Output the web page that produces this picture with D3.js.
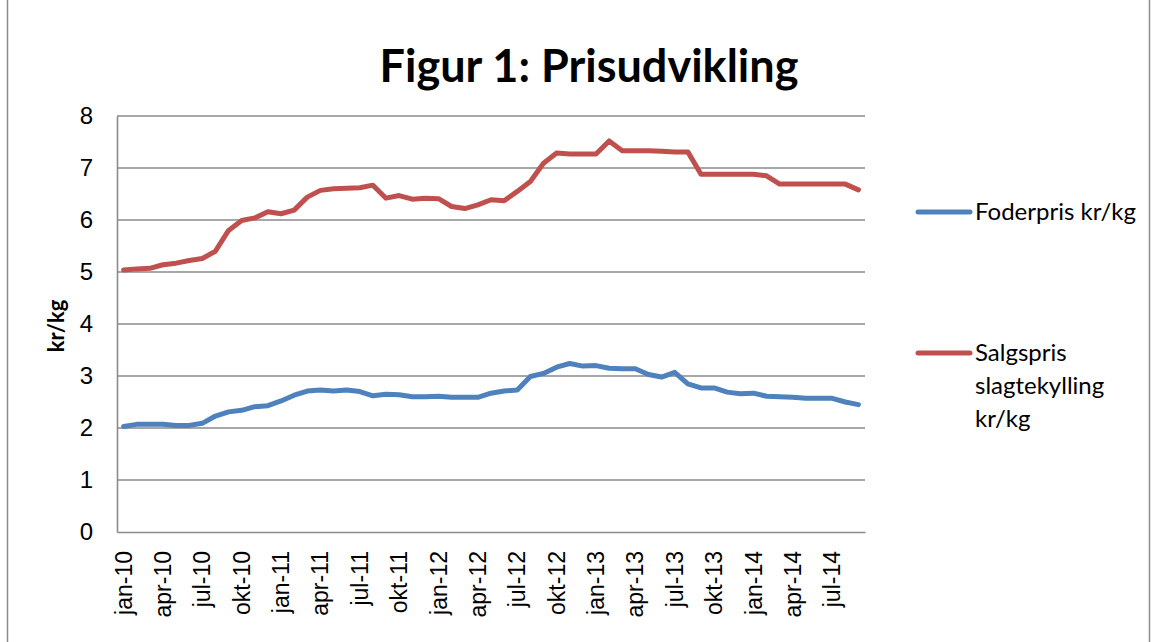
<!DOCTYPE html>
<html>
<head>
<meta charset="utf-8">
<script src="https://cdn.jsdelivr.net/npm/d3@7"></script>
<style>
  body { margin: 0; background: #fff; }
  svg { font-family: Lato, "Open Sans", sans-serif; }
</style>
</head>
<body>
<svg id="chart" width="1157" height="642"></svg>
<script>
var margin = {"top": 116, "right": 292, "bottom": 110, "left": 117};
var width = 1157;
var height = 642;

// data
var months = ["jan", "feb", "mar", "apr", "maj", "jun", "jul", "aug", "sep", "okt", "nov", "dec"];
var categories = [];
for (var yr = 10; yr <= 14; yr++) {
  months.forEach(function(m) { categories.push(m + "-" + yr); });
}
categories = categories.slice(0, 57); // jan-10 .. sep-14

var foderpris = [2.03, 2.07, 2.07, 2.07, 2.05, 2.05, 2.09, 2.23, 2.31, 2.34, 2.41, 2.43,
  2.52, 2.63, 2.71, 2.73, 2.71, 2.73, 2.70, 2.62, 2.65, 2.64, 2.60, 2.60,
  2.61, 2.59, 2.59, 2.59, 2.67, 2.71, 2.73, 2.99, 3.05, 3.17, 3.24, 3.19,
  3.20, 3.15, 3.14, 3.14, 3.03, 2.98, 3.07, 2.85, 2.77, 2.77, 2.69, 2.66,
  2.67, 2.61, 2.60, 2.59, 2.57, 2.57, 2.57, 2.50, 2.45];
var salgspris = [5.04, 5.06, 5.07, 5.14, 5.17, 5.22, 5.26, 5.40, 5.80, 5.99, 6.04, 6.16,
  6.12, 6.19, 6.44, 6.57, 6.60, 6.61, 6.62, 6.67, 6.42, 6.47, 6.40, 6.42,
  6.41, 6.26, 6.22, 6.29, 6.39, 6.37, 6.55, 6.74, 7.09, 7.29, 7.27, 7.27,
  7.27, 7.52, 7.33, 7.33, 7.33, 7.32, 7.31, 7.31, 6.88, 6.88, 6.88, 6.88,
  6.88, 6.85, 6.69, 6.69, 6.69, 6.69, 6.69, 6.69, 6.58];
var yTicks = [0, 1, 2, 3, 4, 5, 6, 7, 8];

var series = [
  {name: ["Foderpris kr/kg"], values: foderpris, color: "#4F81BD", ly: 212},
  {name: ["Salgspris", "slagtekylling", "kr/kg"], values: salgspris, color: "#C0504D", ly: 353}
];

// scales
var xScale = d3.scaleBand()
  .domain(categories)
  .range([margin.left, width - margin.right]);
var yScale = d3.scaleLinear()
  .domain([0, 8])
  .range([height - margin.bottom, margin.top]);

var svg = d3.select('#chart');

// outer chart border
svg.append('rect')
  .attr('x', 7.5).attr('y', -3)
  .attr('width', 1142).attr('height', 650)
  .attr('fill', 'none')
  .attr('stroke', '#8c8c8c')
  .attr('stroke-width', 1.5);

// title
svg.append('text')
  .attr('x', 589).attr('y', 82)
  .attr('text-anchor', 'middle')
  .style('font-size', '45px')
  .style('font-weight', 'bold')
  .text('Figur 1: Prisudvikling');

// gridlines
svg.append('g').selectAll('line')
  .data(yTicks.slice(1))
  .enter().append('line')
  .attr('x1', margin.left).attr('x2', width - margin.right)
  .attr('y1', function(d) { return yScale(d); })
  .attr('y2', function(d) { return yScale(d); })
  .attr('stroke', '#8a8a8a')
  .attr('stroke-width', 1.6);

// axes
var yAxis = d3.axisLeft(yScale).tickValues(yTicks).tickSize(0).tickPadding(24);
var gy = svg.append('g')
  .attr('transform', 'translate(' + [margin.left, 0] + ')')
  .call(yAxis);
gy.select('.domain').attr('stroke', '#8a8a8a').attr('stroke-width', 1.6);
gy.selectAll('text').style('font-size', '24px').attr('fill', '#000');

var xAxis = d3.axisBottom(xScale)
  .tickValues(categories.filter(function(d, i) { return i % 3 === 0; }))
  .tickSize(0);
var gx = svg.append('g')
  .attr('transform', 'translate(' + [0, height - margin.bottom] + ')')
  .call(xAxis);
gx.select('.domain').attr('stroke', '#8a8a8a').attr('stroke-width', 1.6);
gx.selectAll('text')
  .style('font-size', '23px')
  .attr('fill', '#000')
  .attr('text-anchor', 'end')
  .attr('transform', 'rotate(-90)')
  .attr('x', -19)
  .attr('y', 0)
  .attr('dy', '0.35em');

// y axis title
svg.append('text')
  .attr('transform', 'translate(64,' + 326 + ') rotate(-90)')
  .attr('text-anchor', 'middle')
  .style('font-size', '22px')
  .style('font-weight', 'bold')
  .text('kr/kg');

// lines
var line = d3.line()
  .x(function(d, i) { return xScale(categories[i]) + xScale.bandwidth() / 2; })
  .y(function(d) { return yScale(d); });

svg.append('g').selectAll('path')
  .data(series)
  .enter().append('path')
  .attr('d', function(d) { return line(d.values); })
  .attr('fill', 'none')
  .attr('stroke', function(d) { return d.color; })
  .attr('stroke-width', 5)
  .attr('stroke-linejoin', 'round')
  .attr('stroke-linecap', 'round');

// legend
var lg = svg.append('g').selectAll('g')
  .data(series)
  .enter().append('g');
lg.append('line')
  .attr('x1', 918).attr('x2', 970)
  .attr('y1', function(d) { return d.ly; })
  .attr('y2', function(d) { return d.ly; })
  .attr('stroke', function(d) { return d.color; })
  .attr('stroke-width', 5)
  .attr('stroke-linecap', 'round');
lg.append('text')
  .attr('x', 975)
  .attr('y', function(d) { return d.ly; })
  .style('font-size', '24px')
  .selectAll('tspan')
  .data(function(d) { return d.name; })
  .enter().append('tspan')
  .attr('x', 975)
  .attr('dy', function(d, i) { return i === 0 ? '0.35em' : '33px'; })
  .text(function(d) { return d; });
</script>
</body>
</html>
